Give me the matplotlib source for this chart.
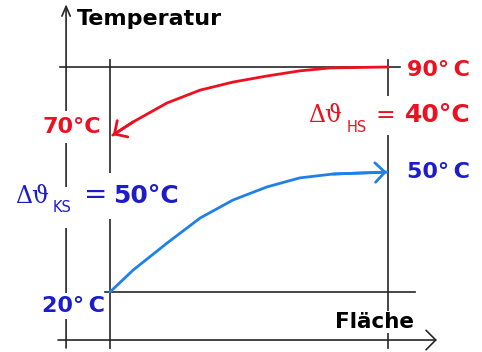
import matplotlib.pyplot as plt

plt.rcParams['font.family'] = ['DejaVu Sans']

# === Schematic values: x = Fläche (0 = inlet of cold side, 1 = outlet), y = temperature in °C ===
t_hot_in, t_cold_in = 90, 20
hot_x = [1.0, 0.79, 0.683, 0.565, 0.442, 0.324, 0.205, 0.083, 0.01]
hot_y = [90.0, 89.7, 88.8, 87.2, 85.3, 82.8, 78.8, 72.9, 68.8]
cold_x = [0.0, 0.083, 0.205, 0.324, 0.442, 0.565, 0.683, 0.802, 0.996]
cold_y = [20.0, 26.8, 35.2, 43.0, 48.6, 52.7, 55.5, 56.7, 57.3]

hot_labels = ['90°\u2009C', '70°C']
cold_labels = ['50°\u2009C', '20°\u2009C']
dt_hot, dt_cold = '40°C', '50°C'

# === Colours / style ===
red = '#ec1020'
blue_txt = '#1c1ccc'
blue_line = '#1f80e8'
black = '#262626'
W, H = 482, 352

fig = plt.figure(figsize=(W / 100, H / 100), dpi=100)
ax = fig.add_axes([0, 0, 1, 1])
ax.set_xlim(-0.3957, 1.3381)
ax.set_ylim(1.33, 110.84)
ax.axis('off')

y_axis_x, x_axis_y, bottom = -0.158, 5.06, 2.57


def arrow(tip, start, color, hl=0.35, hw=0.35, lw=1.2):
    ax.annotate('', xy=tip, xytext=start,
                arrowprops=dict(arrowstyle=f'->,head_length={hl},head_width={hw}',
                                color=color, lw=lw, shrinkA=0, shrinkB=0,
                                mutation_scale=20))


# axes with arrows
arrow((y_axis_x, 109.5), (y_axis_x, bottom), black, hl=0.35, hw=0.15)
arrow((1.176, x_axis_y), (-0.187, x_axis_y), black)

# inlet / outlet rails and the two inlet levels
for xr in (0, 1):
    ax.plot([xr, xr], [bottom, 92.2], color=black, lw=1.2)
ax.plot([-0.18, 1.043], [t_hot_in, t_hot_in], color=black, lw=1.2)
ax.plot([-0.018, 1.097], [t_cold_in, t_cold_in], color=black, lw=1.2)

# temperature curves
ax.plot(hot_x, hot_y, color=red, lw=2.0, solid_capstyle='round', solid_joinstyle='round')
arrow((hot_x[-1], hot_y[-1]), (hot_x[-2], hot_y[-2]), red, lw=2.0)
ax.plot(cold_x, cold_y, color=blue_line, lw=2.0, solid_capstyle='round', solid_joinstyle='round')
arrow((cold_x[-1], cold_y[-1]), (cold_x[-2], cold_y[-2]), blue_line, lw=2.0)


# === Labels (placed in picture pixels, baseline aligned) ===
def label(x, y, s, pad=None, **kw):
    kw.setdefault('fontweight', 'bold')
    z = 3
    if pad is not None:
        # white box breaks the lines behind the label, kept under the other labels
        kw['bbox'] = dict(facecolor='white', edgecolor='none', pad=pad)
        z = 2
    fig.text(x / W, 1 - y / H, s, ha='left', va='baseline', zorder=z, **kw)


label(77, 25, 'Temperatur', fontsize=16, color='black')
label(335, 328, 'Fläche', fontsize=15.5, color='black', pad=1)

label(407, 76, hot_labels[0], fontsize=16, color=red)
label(42, 133, hot_labels[1], fontsize=16, color=red, pad=4)
label(407, 178, cold_labels[0], fontsize=16, color=blue_txt)
label(42, 312, cold_labels[1], fontsize=16, color=blue_txt, pad=2)

serif = ['DejaVu Serif']
# Δϑ_HS = 40°C
label(308, 122, 'Δϑ', fontsize=17, color=red, fontweight='normal', family=serif)
label(347, 132, 'HS', fontsize=10.5, color=red, fontweight='normal')
label(376, 122, '=', fontsize=17, color=red, fontweight='normal', family=serif, pad=6)
label(405, 122, dt_hot, fontsize=18, color=red)
# Δϑ_KS = 50°C
label(15, 203, 'Δϑ', fontsize=17, color=blue_txt, fontweight='normal', family=serif)
label(53, 212, 'KS', fontsize=10.5, color=blue_txt, fontweight='normal', pad=9)
label(84, 203, '=', fontsize=20, color=blue_txt, fontweight='normal', family=serif)
label(113, 203, dt_cold, fontsize=18, color=blue_txt, pad=8)

fig.savefig('out.png', dpi=100)
